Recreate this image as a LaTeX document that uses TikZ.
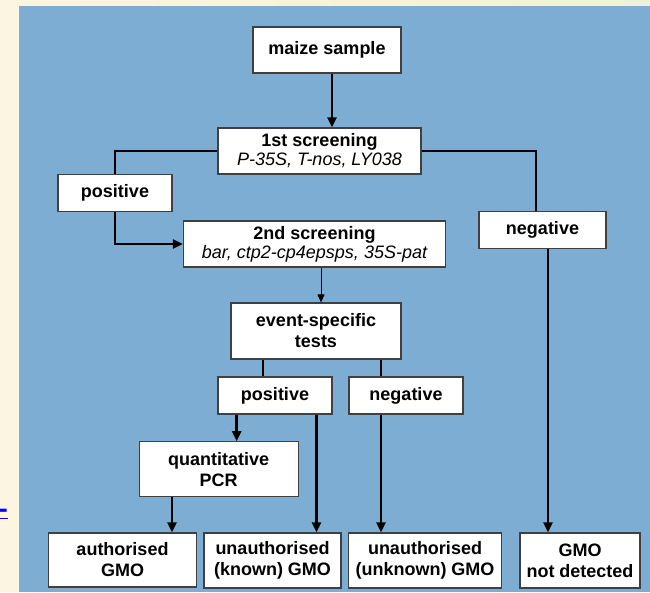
\documentclass[tikz,border=0pt]{standalone}
\usepackage{fontspec}
\setmainfont{Liberation Sans}
\usetikzlibrary{arrows.meta,positioning}

\definecolor{slide}{RGB}{126,173,211}
\definecolor{cream}{RGB}{252,245,226}
\definecolor{leaf}{RGB}{236,244,214}

\begin{document}
\begin{tikzpicture}[
  x=1pt,y=-1pt,
  font=\fontsize{18}{21}\selectfont\bfseries,
  box/.style={draw=black!75,fill=white,line width=1.2pt,align=center,inner sep=0pt},
  line/.style={line width=2.8pt},
  arr/.style={line width=2.8pt,-{Triangle[length=10pt,width=9pt]}},
  thinarr/.style={line width=1pt,-{Triangle[length=8pt,width=7pt]}}
]
  \useasboundingbox (0,0) rectangle (650,592);
  % slide background
  \fill[cream] (0,0) rectangle (650,592);
  \shade[left color=cream,right color=leaf] (19,0) rectangle (650,6);
  \fill[slide] (19,6) rectangle (650,592);
  \node[text=blue,font=\fontsize{26}{26}\selectfont\bfseries,inner sep=0pt,anchor=west] (link) at (-1,514) {\underline{-}};

  % boxes
  \node[box,minimum width=148,minimum height=46] (maize) at (327,50) {maize sample};
  \node[box,minimum width=203,minimum height=46] (screen1) at (319.5,151)
    {1st screening\\[-2pt]{\mdseries\itshape P-35S, T-nos, LY038}};
  \node[box,minimum width=114,minimum height=37] (pos1) at (115,193) {positive};
  \node[box,minimum width=127,minimum height=37] (neg1) at (542.5,230) {negative};
  \node[box,minimum width=262,minimum height=46] (screen2) at (314.5,244)
    {2nd screening\\[-2pt]{\mdseries\itshape bar, ctp2-cp4epsps, 35S-pat}};
  \node[box,minimum width=170,minimum height=56] (event) at (316,331) {event-specific\\tests};
  \node[box,minimum width=114,minimum height=37] (pos2) at (275,395.5) {positive};
  \node[box,minimum width=114,minimum height=37] (neg2) at (406,395.5) {negative};
  \node[box,minimum width=159,minimum height=55] (qpcr) at (218.7,469.3) {quantitative\\PCR};
  \node[box,minimum width=148,minimum height=54] (auth) at (122.5,560) {authorised\\GMO};
  \node[box,minimum width=137,minimum height=55] (known) at (272.5,560.5) {unauthorised\\(known) GMO};
  \node[box,minimum width=153,minimum height=55] (unknown) at (425,560.5) {unauthorised\\(unknown) GMO};
  \node[box,minimum width=120,minimum height=55] (notdet) at (580,560.5) {GMO\\not detected};

  % connectors
  \draw[arr] ([xshift=5pt]maize.south) -- ([xshift=5pt]maize.south |- screen1.north);
  \draw[line] (screen1.west) -| (pos1.north);
  \draw[arr] (pos1.south) |- (screen2.west);
  \draw[line] (screen1.east) -| ([xshift=-6.5pt]neg1.north);
  \draw[arr] ([xshift=-32pt]notdet.north |- neg1.south) -- ([xshift=-32pt]notdet.north);
  \draw[thinarr] ([xshift=5pt]event.north |- screen2.south) -- ([xshift=5pt]event.north);
  \draw[line] ([xshift=-12pt]pos2.north |- event.south) -- ([xshift=-12pt]pos2.north);
  \draw[line] ([xshift=-25pt]neg2.north |- event.south) -- ([xshift=-25pt]neg2.north);
  \draw[arr] ([xshift=18pt]qpcr.north |- pos2.south) -- ([xshift=18pt]qpcr.north);
  \draw[arr] ([xshift=44pt]known.north |- pos2.south) -- ([xshift=44pt]known.north);
  \draw[arr] ([xshift=-44pt]unknown.north |- neg2.south) -- ([xshift=-44pt]unknown.north);
  \draw[arr] ([xshift=49.5pt]auth.north |- qpcr.south) -- ([xshift=49.5pt]auth.north);
\end{tikzpicture}
\end{document}
